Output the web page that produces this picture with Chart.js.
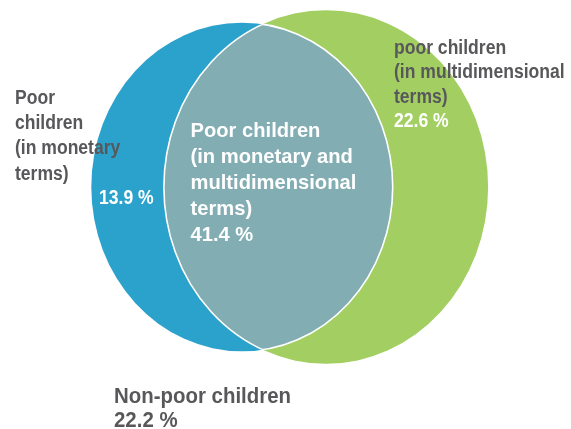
<!DOCTYPE html>
<html>
<head>
<meta charset="utf-8">
<title>Child poverty overlap</title>
<script src="https://cdn.jsdelivr.net/npm/chart.js@4.4.1/dist/chart.umd.min.js"></script>
<style>
  html, body { margin: 0; padding: 0; background: #fff; }
  #wrap { width: 571px; height: 429px; position: relative; }
</style>
</head>
<body>
<div id="wrap"><canvas id="vennChart"></canvas></div>
<script>
// share of children in each region, in percent
const regionLabels = [
  ['Poor', 'children', '(in monetary', 'terms)'],
  ['Poor children', '(in monetary and', 'multidimensional', 'terms)'],
  ['poor children', '(in multidimensional', 'terms)'],
  ['Non-poor children']
];
const regionShares = [13.9, 41.4, 22.6, 22.2];

const setNames = ['Monetary poverty', 'Multidimensional poverty'];
const setColors = ['#2ba2cc', '#a3cf62'];
const overlapColor = '#82adb3';

// set totals: each circle = its own part + the shared part
const setTotals = [regionShares[0] + regionShares[1], regionShares[1] + regionShares[2]];

// layout
const SIZE_K = 22.1;        // radius units per sqrt(percent)
const CENTER_GAP = 91.6;    // distance between the two centres
const X_STRETCH = 0.917;    // horizontal squeeze of the drawing
const FONT = '"Liberation Sans", Arial, sans-serif';
const TEXT_GRAY = '#58585b';

const vennPlugin = {
  id: 'venn',
  beforeDatasetsDraw(chart) {
    const ctx = chart.ctx;
    const x = chart.scales.x, y = chart.scales.y;
    const shapes = chart.data.datasets.map(ds => {
      const p = ds.data[0];
      const cx = x.getPixelForValue(p.x);
      const cy = y.getPixelForValue(p.y);
      return {
        cx: cx,
        cy: cy,
        rx: x.getPixelForValue(p.x + p.r) - cx,
        ry: cy - y.getPixelForValue(p.y + p.r),
        color: ds.backgroundColor
      };
    });
    const path = s => {
      ctx.beginPath();
      ctx.ellipse(s.cx, s.cy, s.rx, s.ry, 0, 0, Math.PI * 2);
    };

    ctx.save();
    shapes.forEach(s => {
      path(s);
      ctx.fillStyle = s.color;
      ctx.fill();
    });

    // shared part
    ctx.save();
    path(shapes[0]);
    ctx.clip();
    path(shapes[1]);
    ctx.fillStyle = overlapColor;
    ctx.fill();
    ctx.restore();

    // white edge round the shared part
    ctx.strokeStyle = '#ffffff';
    ctx.lineWidth = 1.6;
    [[0, 1], [1, 0]].forEach(([a, b]) => {
      ctx.save();
      path(shapes[b]);
      ctx.clip();
      path(shapes[a]);
      ctx.stroke();
      ctx.restore();
    });
    ctx.restore();
  },
  afterDatasetsDraw(chart) {
    const ctx = chart.ctx;
    // sx narrows the glyphs to a condensed look
    const blocks = [
      { i: 0, x: 15, y: 104, step: 25.2, size: 19.5, sx: 0.9, color: TEXT_GRAY,
        value: { x: 99, y: 204, color: '#ffffff' } },
      { i: 1, x: 190.5, y: 137, step: 26, size: 21, sx: 0.96, color: '#ffffff',
        value: { x: 190.5, y: 241, color: '#ffffff' } },
      { i: 2, x: 394, y: 53.5, step: 24.5, size: 19.5, sx: 0.9, color: TEXT_GRAY,
        value: { x: 394, y: 127, color: '#ffffff' } },
      { i: 3, x: 114, y: 402.5, step: 24, size: 21.5, sx: 0.95, color: TEXT_GRAY,
        value: { x: 114, y: 426.5, color: TEXT_GRAY } }
    ];
    const put = (text, px, py, sx) => {
      ctx.save();
      ctx.translate(px, py);
      ctx.scale(sx, 1);
      ctx.fillText(text, 0, 0);
      ctx.restore();
    };
    ctx.save();
    ctx.textAlign = 'left';
    ctx.textBaseline = 'alphabetic';
    blocks.forEach(b => {
      ctx.font = 'bold ' + b.size + 'px ' + FONT;
      ctx.fillStyle = b.color;
      regionLabels[b.i].forEach((line, k) => {
        put(line, b.x, b.y + k * b.step, b.sx);
      });
      ctx.fillStyle = b.value.color;
      put(regionShares[b.i].toFixed(1) + ' %', b.value.x, b.value.y, b.sx);
    });
    ctx.restore();
  }
};

new Chart(document.getElementById('vennChart'), {
  type: 'scatter',
  data: {
    datasets: [
      {
        label: setNames[0],
        data: [{ x: 0, y: 0, r: SIZE_K * Math.sqrt(setTotals[0]) }],
        backgroundColor: setColors[0],
        pointRadius: 0
      },
      {
        label: setNames[1],
        data: [{ x: CENTER_GAP, y: 0, r: SIZE_K * Math.sqrt(setTotals[1]) }],
        backgroundColor: setColors[1],
        pointRadius: 0
      }
    ]
  },
  options: {
    responsive: true,
    maintainAspectRatio: false,
    animation: false,
    layout: { padding: 0 },
    events: [],
    scales: {
      x: { display: false, min: -242 / X_STRETCH, max: (571 - 242) / X_STRETCH },
      y: { display: false, min: -242, max: 187 }
    },
    plugins: {
      legend: { display: false },
      tooltip: { enabled: false }
    }
  },
  plugins: [vennPlugin]
});
</script>
</body>
</html>
